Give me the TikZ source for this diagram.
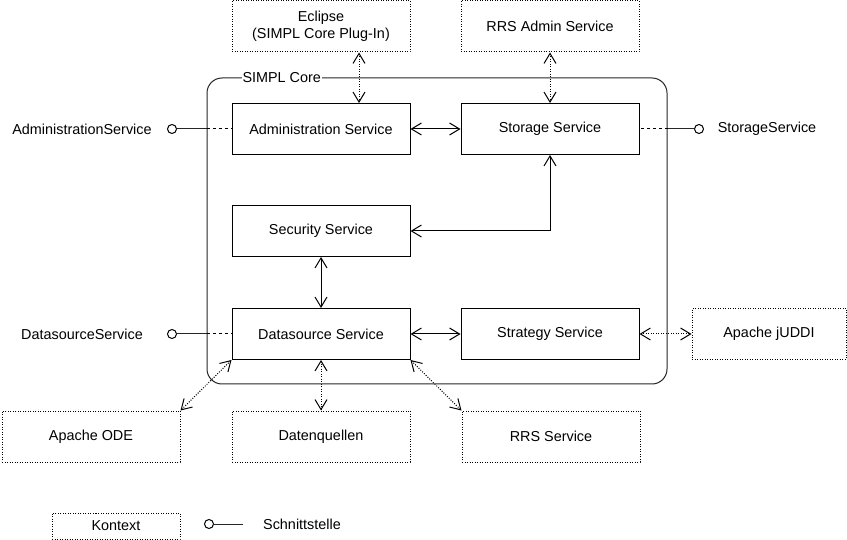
\documentclass[tikz,border=0pt]{standalone}
\usepackage{fontspec}
\setmainfont{Liberation Sans}
\usetikzlibrary{arrows.meta,positioning}

\tikzset{
  svc/.style={draw, minimum width=178pt, minimum height=51pt, inner sep=0pt,
    font=\fontsize{14.4}{17}\selectfont},
  ctx/.style={svc, dash pattern=on 1pt off 1.5pt},
  txt/.style={inner sep=0pt, font=\fontsize{14.4}{17}\selectfont},
  iface/.style={draw, circle, minimum size=9pt, inner sep=0pt, fill=white},
  link/.style={{Straight Barb[length=10pt,width=12pt]}-{Straight Barb[length=10pt,width=12pt]}},
  ctxlink/.style={link, dash pattern=on 1pt off 1.5pt},
}

\begin{document}
\begin{tikzpicture}[x=1pt, y=-1pt, line width=1pt]
  \useasboundingbox (0,0) rectangle (847,540);

  % SIMPL Core frame
  \node[draw, black!85, rounded corners=15pt, minimum width=460pt,
    minimum height=306pt, inner sep=0pt] (core) at (437,231) {};
  \node[txt, fill=white, inner sep=1pt, anchor=west] (corelbl) at (241,78) {SIMPL Core};

  % services inside the core
  \node[svc] (admin) at (321,129) {Administration Service};
  \node[svc] (storage) at (550,129) {Storage Service};
  \node[svc] (security) at (321,231) {Security Service};
  \node[svc] (datasource) at (321,334) {Datasource Service};
  \node[svc] (strategy) at (550,334) {Strategy Service};

  % context
  \node[ctx, align=center] (eclipse) at (321,26.5) {Eclipse\\(SIMPL Core Plug-In)};
  \node[ctx] (rrsadmin) at (550,26.5) {RRS Admin Service};
  \node[ctx, minimum width=154pt] (juddi) at (769,334) {Apache jUDDI};
  \node[ctx] (ode) at (91,436.5) {Apache ODE};
  \node[ctx] (quellen) at (321,436.5) {Datenquellen};
  \node[ctx] (rrs) at (551,436.5) {RRS Service};

  % interfaces
  \node[iface] (adminif) at (172,129) {};
  \node[txt] (adminiflbl) at (82,129) {AdministrationService};
  \node[iface] (storageif) at (699,129) {};
  \node[txt] (storageiflbl) at (767,129) {StorageService};
  \node[iface] (dsif) at (172,334) {};
  \node[txt] (dsiflbl) at (82,334) {DatasourceService};

  \draw[black!85] (adminif) -- (core.west |- admin);
  \draw[dashed] (core.west |- admin) -- (admin.west);
  \draw[black!85] (storageif) -- (core.east |- storage);
  \draw[dashed] (core.east |- storage) -- (storage.east);
  \draw[black!85] (dsif) -- (core.west |- datasource);
  \draw[dashed] (core.west |- datasource) -- (datasource.west);

  % connections
  \draw[link] (admin) -- (storage);
  \draw[link] (storage.south) |- (security.east);
  \draw[link] (security) -- (datasource);
  \draw[link] (datasource) -- (strategy);

  \draw[ctxlink] ([xshift=38pt]eclipse.south) -- ([xshift=38pt]admin.north);
  \draw[ctxlink] (rrsadmin) -- (storage);
  \draw[ctxlink] (strategy) -- (juddi);
  \draw[ctxlink] (datasource.south west) -- (ode.north east);
  \draw[ctxlink] (datasource) -- (quellen);
  \draw[ctxlink] (datasource.south east) -- (rrs.north west);

  % legend
  \node[ctx, minimum width=128pt, minimum height=26pt] (kontext) at (116,526) {Kontext};
  \node[iface] (legif) at (209,524) {};
  \coordinate (legend) at (243,524);
  \draw[black!85] (legif) -- (legend);
  \node[txt] (leglbl) at (302,524) {Schnittstelle};
\end{tikzpicture}
\end{document}
